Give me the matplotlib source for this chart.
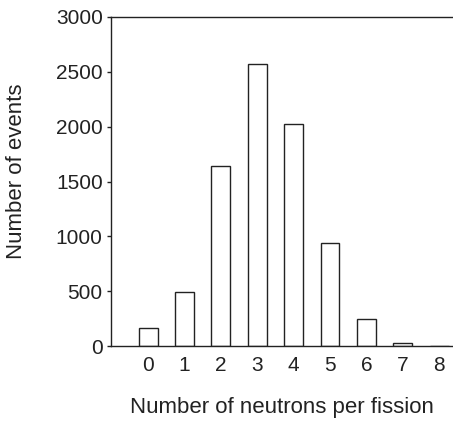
import matplotlib
matplotlib.use("Agg")
from matplotlib import pyplot as plt

# neutrons per fission histogram
neutrons = [0, 1, 2, 3, 4, 5, 6, 7, 8]
events = [160, 495, 1640, 2570, 2020, 940, 250, 30, 0]
y_ticks = [0, 500, 1000, 1500, 2000, 2500, 3000]

plt.rcParams['font.family'] = ['Liberation Sans', 'DejaVu Sans']

fig = plt.figure(figsize=(4.53, 4.24), dpi=100)
ax = fig.add_axes([111 / 453, 1 - 346 / 424, 1 - 111 / 453, (346 - 17) / 424])

ax.bar(neutrons, events, width=0.52, color='white', edgecolor='#222222', linewidth=1.0)

ax.set_xlim(-1.02, 8.38)
ax.set_ylim(0, 3000)
ax.set_xticks(neutrons)
ax.set_yticks(y_ticks)

ax.tick_params(axis='x', length=0, pad=7, labelsize=15, colors='#222222')
ax.tick_params(axis='y', length=3, width=1, pad=3, labelsize=15, colors='#222222')

for side in ['left', 'top', 'bottom']:
    ax.spines[side].set_linewidth(1.0)
    ax.spines[side].set_color('#222222')
ax.spines['right'].set_visible(False)

ax.set_xlabel('Number of neutrons per fission', fontsize=16, color='#222222', labelpad=16)
ax.set_ylabel('Number of events', fontsize=16, color='#222222')
ax.yaxis.set_label_coords(-0.245, 0.53)

fig.savefig('out.png', dpi=100)
